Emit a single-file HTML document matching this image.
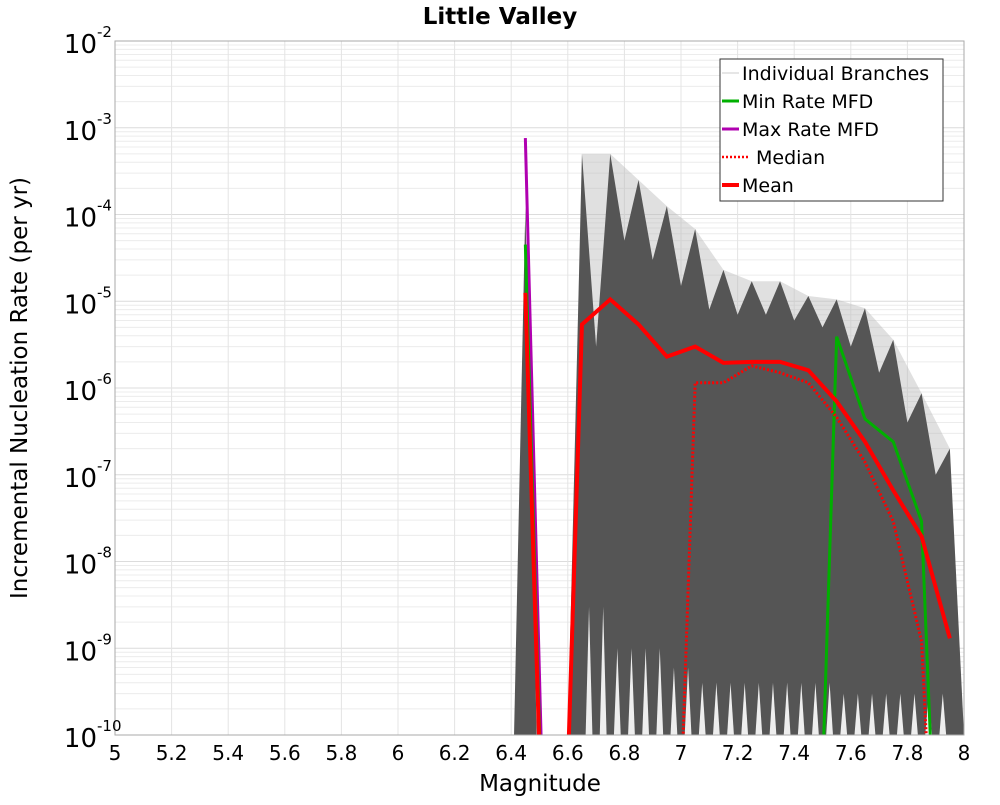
<!DOCTYPE html>
<html><head><meta charset="utf-8"><style>
body{margin:0;background:#fff;}
svg text{font-family:"DejaVu Sans","Liberation Sans",sans-serif;}
</style></head><body>
<svg id="chart" width="1000" height="800" xmlns="http://www.w3.org/2000/svg">
<rect width="1000" height="800" fill="#fff"/>
<text x="500" y="24" text-anchor="middle" font-size="23" font-weight="bold">Little Valley</text>
<g id="grid"></g>
<g id="branches"></g>
<g id="series"></g>
<rect x="115" y="41" width="849" height="694" fill="none" stroke="#aaa" stroke-width="1"/>
<g id="axes"></g>
<text x="540" y="791" text-anchor="middle" font-size="23">Magnitude</text>
<text transform="translate(27,388) rotate(-90)" text-anchor="middle" font-size="23">Incremental Nucleation Rate (per yr)</text>
<g>
<rect x="720" y="59" width="223" height="142" fill="#fff" stroke="#333" stroke-width="1"/>
<line x1="722" y1="73" x2="739" y2="73" stroke="#ccc" stroke-width="1"/>
<text x="742" y="80" font-size="19">Individual Branches</text>
<line x1="722" y1="101" x2="739" y2="101" stroke="#00b000" stroke-width="3"/>
<text x="742" y="108" font-size="19">Min Rate MFD</text>
<line x1="722" y1="129" x2="739" y2="129" stroke="#b000b0" stroke-width="3"/>
<text x="742" y="136" font-size="19">Max Rate MFD</text>
<line x1="722" y1="157" x2="750" y2="157" stroke="#f00" stroke-width="2.5" stroke-dasharray="2,2"/>
<text x="756" y="164" font-size="19">Median</text>
<line x1="722" y1="185" x2="739" y2="185" stroke="#f00" stroke-width="4"/>
<text x="742" y="192" font-size="19">Mean</text>
</g>
</svg>
<script>
const mags=[6.45,6.55,6.65,6.75,6.85,6.95,7.05,7.15,7.25,7.35,7.45,7.55,7.65,7.75,7.85,7.95];
const meanVals=[1.25e-5,0,5.4e-6,1.05e-5,5.4e-6,2.3e-6,3.0e-6,1.95e-6,2.0e-6,2.0e-6,1.6e-6,7e-7,2.4e-7,6.6e-8,1.95e-8,1.3e-9];
const medianVals=[1.2e-5,0,0,0,0,0,1.15e-6,1.15e-6,1.8e-6,1.5e-6,1.15e-6,4.6e-7,1.4e-7,2.9e-8,1.2e-9,0];
const minVals=[4.5e-5,0,0,0,0,0,0,0,0,0,0,3.9e-6,4.4e-7,2.4e-7,2.9e-8,0];
const maxVals=[7.6e-4,0,0,0,0,0,0,0,0,0,0,0,0,0,0,0];
const branchPeak=[1.2e-4,0,5e-4,5e-4,2.5e-4,1.25e-4,6.8e-5,2.3e-5,1.7e-5,1.7e-5,1.15e-5,1.05e-5,8.3e-6,3.6e-6,8.7e-7,2e-7];
const branchValley=[0,0,3e-6,5e-5,3e-5,1.5e-5,8e-6,7e-6,7e-6,6e-6,5e-6,3e-6,1.5e-6,4e-7,1e-7];
const gapTop=[0,0,3e-9,1e-9,1e-9,6e-10,4e-10,4e-10,4e-10,4e-10,4e-10,3e-10,3e-10,3e-10,3e-10];
const xTicks=[5,5.2,5.4,5.6,5.8,6,6.2,6.4,6.6,6.8,7,7.2,7.4,7.6,7.8,8];
const xTickLabels=["5","5.2","5.4","5.6","5.8","6","6.2","6.4","6.6","6.8","7","7.2","7.4","7.6","7.8","8"];
const yExps=[-2,-3,-4,-5,-6,-7,-8,-9,-10];

const X0=115,X1=964,Y0=41,Y1=735;
const xs=m=>X0+(m-5)/3*(X1-X0);
const ys=v=>{if(!(v>0))return Y1+480;const l=Math.log10(v);return Y0+(-2-l)/8*(Y1-Y0);};
const NS="http://www.w3.org/2000/svg";
function mk(tag,attrs,parent){const e=document.createElementNS(NS,tag);for(const k in attrs)e.setAttribute(k,attrs[k]);parent.appendChild(e);return e;}
const grid=document.getElementById('grid'),axes=document.getElementById('axes'),br=document.getElementById('branches'),ser=document.getElementById('series');
const defs=mk('defs',{},document.getElementById('chart'));
const cp=mk('clipPath',{id:'pc'},defs);mk('rect',{x:X0,y:Y0,width:X1-X0,height:Y1-Y0},cp);
br.setAttribute('clip-path','url(#pc)');ser.setAttribute('clip-path','url(#pc)');
for(let e=-10;e<-2;e++){for(let k=1;k<10;k++){const y=ys(k*Math.pow(10,e));
 const gl=mk('line',{x1:X0,x2:X1,y1:y,y2:y,stroke:k==1?'#dcdcdc':'#ececec','stroke-width':1},grid);
 }}
xTicks.forEach((t,i)=>{const x=xs(t);
 const gl=mk('line',{x1:x,x2:x,y1:Y0,y2:Y1,stroke:'#e4e4e4','stroke-width':1},grid);
 
 const tx=mk('text',{x:x,y:760,'text-anchor':'middle','font-size':20},axes);tx.textContent=xTickLabels[i];
 });
yExps.forEach(e=>{const y=ys(Math.pow(10,e));
 const t=mk('text',{x:97,y:y+12,'text-anchor':'end','font-size':26},axes);t.textContent='10';
 
 const s=mk('text',{x:97,y:y-4,'text-anchor':'start','font-size':15},axes);s.textContent=String(e);
 });
const dark='#555';
// light halo polygon connecting peaks
let halo=[[xs(6.6),Y1]];
for(let i=2;i<mags.length;i++)halo.push([xs(mags[i]),ys(branchPeak[i])]);
halo.push([X1,Y1]);
const h=mk('polygon',{points:halo.map(p=>p.join(',')).join(' '),fill:'#bbb','fill-opacity':0.45},br);

// dense body
let poly=[[xs(6.6),Y1]];
for(let i=2;i<mags.length;i++){
 poly.push([xs(mags[i]),ys(branchPeak[i])]);
 if(i<mags.length-1)poly.push([xs(mags[i]+0.05),ys(branchValley[i])]);
}
poly.push([X1,Y1]);
const body=mk('polygon',{points:poly.map(p=>p.join(',')).join(' '),fill:dark},br);

// spike at 6.45
const sp=mk('polygon',{points:[[xs(6.41),Y1],[xs(6.45),ys(branchPeak[0])],[xs(6.49),Y1]].map(p=>p.join(',')).join(' '),fill:dark},br);

// white gaps at bottom between bins
for(let i=2;i<mags.length-1;i++){
 if(!(gapTop[i]>0))continue;
 const m=mags[i]+0.05;
 [-0.025,0.025].forEach(d=>{
  const g=mk('polygon',{points:[[xs(m+d-0.012),Y1],[xs(m+d),ys(gapTop[i])],[xs(m+d+0.012),Y1]].map(p=>p.join(',')).join(' '),fill:'#eee'},br);
  });
}
function line(vals,attrs,name){
 const p=mags.map((m,i)=>xs(m)+','+ys(vals[i])).join(' ');
 const e=mk('polyline',Object.assign({points:p,fill:'none','stroke-linejoin':'miter'},attrs),ser);
 }
line(maxVals,{stroke:'#b000b0','stroke-width':3},'max-rate-line');
line(minVals,{stroke:'#00b000','stroke-width':3},'min-rate-line');
line(medianVals,{stroke:'#f00','stroke-width':3,'stroke-dasharray':'2,2'},'median-line');
line(meanVals,{stroke:'#f00','stroke-width':4},'mean-line');
</script>
</body></html>
